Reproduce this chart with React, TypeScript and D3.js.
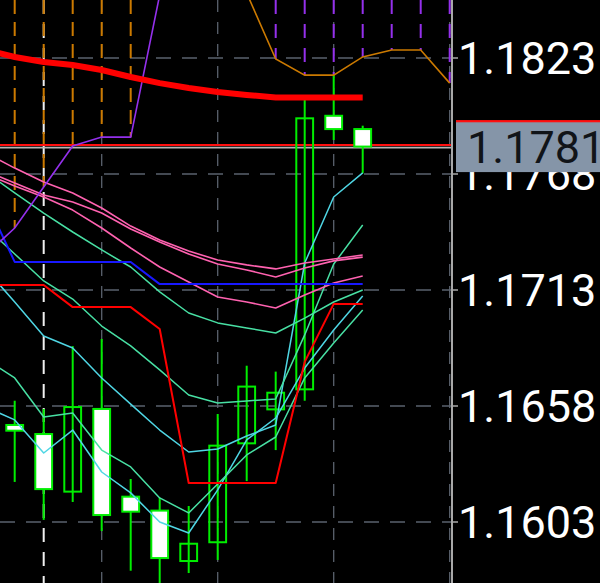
import React, { useEffect, useRef } from 'react';
import * as d3 from 'd3';

// price axis
const priceTicks = [1.1823, 1.1768, 1.1713, 1.1658, 1.1603];
const lastPrice = 1.1781;

// candles, bars 0..12
const candleOpen = [1.16490, 1.16447, 1.16174, 1.16566, 1.16150, 1.16084, 1.15845, 1.15934, 1.16403, 1.16564, 1.16659, 1.17956, 1.17893];
const candleHigh = [1.16605, 1.16566, 1.16864, 1.16898, 1.16234, 1.16144, 1.16106, 1.16542, 1.16771, 1.16743, 1.18040, 1.18149, 1.17909];
const candleLow = [1.16220, 1.16040, 1.16125, 1.15987, 1.15799, 1.15735, 1.15788, 1.15850, 1.16224, 1.16371, 1.16605, 1.17841, 1.17683];
const candleClose = [1.16463, 1.16186, 1.16575, 1.16063, 1.16079, 1.15859, 1.15927, 1.16392, 1.16672, 1.16643, 1.17944, 1.17893, 1.17810];

// indicator lines, bars -1..12
const maSlow = [1.18268, 1.18235, 1.18211, 1.18197, 1.18173, 1.18140, 1.18111, 1.18088, 1.18069, 1.18055, 1.18043, 1.18043, 1.18043, 1.18043];
const kijun = [1.17557, 1.17263, 1.17263, 1.17263, 1.17263, 1.17263, 1.17158, 1.17158, 1.17158, 1.17158, 1.17158, 1.17158, 1.17158, 1.17158];
const tenkan = [1.17154, 1.17154, 1.17154, 1.17049, 1.17049, 1.17049, 1.16945, 1.16215, 1.16215, 1.16215, 1.16215, 1.16789, 1.17064, 1.17064];
const pink1 = [1.17780, 1.17708, 1.17642, 1.17590, 1.17519, 1.17433, 1.17367, 1.17315, 1.17272, 1.17249, 1.17230, 1.17258, 1.17277, 1.17296];
const pink2 = [1.17694, 1.17637, 1.17580, 1.17547, 1.17495, 1.17419, 1.17358, 1.17301, 1.17253, 1.17225, 1.17192, 1.17234, 1.17268, 1.17286];
const pink3 = [1.17680, 1.17623, 1.17571, 1.17509, 1.17424, 1.17329, 1.17239, 1.17168, 1.17097, 1.17073, 1.17045, 1.17106, 1.17163, 1.17196];
const aqua1 = [1.17689, 1.17590, 1.17495, 1.17405, 1.17320, 1.17239, 1.17121, 1.17021, 1.16974, 1.16950, 1.16926, 1.16997, 1.17073, 1.17130];
const aqua2 = [1.17429, 1.17301, 1.17173, 1.17087, 1.16959, 1.16865, 1.16751, 1.16632, 1.16594, 1.16604, 1.16613, 1.16917, 1.17253, 1.17438];
const aqua3 = [1.16803, 1.16713, 1.16528, 1.16547, 1.16371, 1.16291, 1.16144, 1.16073, 1.16210, 1.16348, 1.16433, 1.16713, 1.16879, 1.17035];
const cyan1 = [1.17230, 1.17073, 1.16912, 1.16855, 1.16713, 1.16589, 1.16466, 1.16362, 1.16376, 1.16438, 1.16490, 1.17258, 1.17571, 1.17685];
const cyan2 = [1.16575, 1.16514, 1.16357, 1.16466, 1.16267, 1.16168, 1.16030, 1.15978, 1.16182, 1.16419, 1.16523, 1.16760, 1.16940, 1.17102];

// cloud spans, bars -1..15
const spanA = [1.1872, 1.1870, 1.1868, 1.1866, 1.1864, 1.1862, 1.1860, 1.1858, 1.1856, 1.18538, 1.18225, 1.18149, 1.18149, 1.18235, 1.18268, 1.18268, 1.18111];
const spanB = [1.17296, 1.17424, 1.17618, 1.17813, 1.17855, 1.17855, 1.18529, 1.1861, 1.1862, 1.1863, 1.1864, 1.1865, 1.1866, 1.1867, 1.1868, 1.1869, 1.1870];

const gridBars = [3, 7, 11, 15];
const separatorBar = 1;

const App: React.FC = () => {
  const svgRef = useRef<SVGSVGElement>(null);

  useEffect(() => {
    if (!svgRef.current) return;
    const svg = d3.select(svgRef.current);
    svg.selectAll('*').remove();

    const width = 600;
    const height = 583;
    const axisX = 452;

    const x = d3.scaleLinear().domain([0, 15]).range([14.7, 449.7]);
    const y = d3.scaleLinear().domain([1.1603, 1.1823]).range([522, 58]);

    svg.append('rect').attr('width', width).attr('height', height).attr('fill', '#000');

    svg.append('defs').append('clipPath').attr('id', 'plot')
      .append('rect').attr('x', 0).attr('y', 0).attr('width', axisX).attr('height', height);

    const plot = svg.append('g').attr('clip-path', 'url(#plot)');

    // grid
    plot.selectAll('.vgrid').data(gridBars).enter().append('line')
      .attr('x1', d => x(d)).attr('x2', d => x(d))
      .attr('y1', 0).attr('y2', height)
      .attr('stroke', '#5a626d').attr('stroke-width', 1.3).attr('stroke-dasharray', '12,10');
    plot.selectAll('.hgrid').data(priceTicks).enter().append('line')
      .attr('x1', 0).attr('x2', axisX)
      .attr('y1', d => y(d)).attr('y2', d => y(d))
      .attr('stroke', '#5a626d').attr('stroke-width', 1.3).attr('stroke-dasharray', '15,11');

    // period separator
    plot.append('line')
      .attr('x1', x(separatorBar)).attr('x2', x(separatorBar))
      .attr('y1', 0).attr('y2', height)
      .attr('stroke', '#f0f0f0').attr('stroke-width', 2).attr('stroke-dasharray', '14,10');

    // cloud hatch
    const hatch = spanA.map((a, j) => {
      const b = spanB[j];
      return { i: j - 1, top: Math.max(0, y(Math.max(a, b))), bottom: y(Math.min(a, b)), up: a > b };
    }).filter(d => d.bottom > 0);
    plot.selectAll('.hatch').data(hatch).enter().append('line')
      .attr('x1', d => x(d.i)).attr('x2', d => x(d.i))
      .attr('y1', d => d.top).attr('y2', d => d.bottom)
      .attr('stroke', d => d.up ? '#cc7a00' : '#9430ec')
      .attr('stroke-width', 2)
      .attr('stroke-dasharray', d => d.up ? '14,8' : '14,10');

    // bid / ask lines
    plot.append('line').attr('x1', 0).attr('x2', axisX)
      .attr('y1', y(lastPrice) - 1.6).attr('y2', y(lastPrice) - 1.6)
      .attr('stroke', '#ff1010').attr('stroke-width', 2.2);
    plot.append('line').attr('x1', 0).attr('x2', axisX)
      .attr('y1', y(lastPrice) + 1).attr('y2', y(lastPrice) + 1)
      .attr('stroke', '#b4b4b4').attr('stroke-width', 1.6);

    // candles
    const candles = candleOpen.map((o, i) => ({
      i, o, h: candleHigh[i], l: candleLow[i], c: candleClose[i],
    }));
    const green = '#00ee00';
    plot.selectAll('.wick').data(candles).enter().append('line')
      .attr('x1', d => x(d.i)).attr('x2', d => x(d.i))
      .attr('y1', d => y(d.h)).attr('y2', d => y(d.l))
      .attr('stroke', green).attr('stroke-width', 2);
    plot.selectAll('.body').data(candles).enter().append('rect')
      .attr('x', d => x(d.i) - 8.4)
      .attr('y', d => y(Math.max(d.o, d.c)))
      .attr('width', 16.8)
      .attr('height', d => Math.max(1, Math.abs(y(d.o) - y(d.c))))
      .attr('fill', d => d.c < d.o ? '#ffffff' : 'none')
      .attr('stroke', green).attr('stroke-width', 2);

    // indicator lines
    const line = d3.line<number>().x((_, j) => x(j - 1)).y(d => y(d));
    const series: [number[], string, number][] = [
      [cyan2, '#4fd6e4', 1.5],
      [aqua3, '#48e0a4', 1.5],
      [cyan1, '#4fd6e4', 1.5],
      [aqua2, '#48e0a4', 1.5],
      [aqua1, '#48e0a4', 1.5],
      [pink3, '#ff62b0', 1.6],
      [pink2, '#ff62b0', 1.6],
      [pink1, '#ff62b0', 1.6],
      [kijun, '#1818ff', 2],
      [tenkan, '#ff0000', 2],
    ];
    series.forEach(([values, color, w]) => {
      plot.append('path').datum(values)
        .attr('d', line)
        .attr('fill', 'none').attr('stroke', color).attr('stroke-width', w)
        .attr('stroke-linejoin', 'round');
    });

    plot.append('path').datum(spanA).attr('d', line)
      .attr('fill', 'none').attr('stroke', '#cc7a00').attr('stroke-width', 1.6);
    plot.append('path').datum(spanB).attr('d', line)
      .attr('fill', 'none').attr('stroke', '#9430ec').attr('stroke-width', 1.6);

    plot.append('path').datum(maSlow).attr('d', line)
      .attr('fill', 'none').attr('stroke', '#ff0000').attr('stroke-width', 6);

    // price axis
    svg.append('line').attr('x1', axisX).attr('x2', axisX).attr('y1', 0).attr('y2', height)
      .attr('stroke', '#a8a8a8').attr('stroke-width', 2);
    svg.selectAll('.tick').data(priceTicks).enter().append('line')
      .attr('x1', axisX).attr('x2', axisX + 6)
      .attr('y1', d => y(d)).attr('y2', d => y(d))
      .attr('stroke', '#a8a8a8').attr('stroke-width', 1.5);
    svg.selectAll('.label').data(priceTicks).enter().append('text')
      .attr('x', axisX + 6)
      .attr('y', d => y(d) + 16)
      .attr('fill', '#ffffff')
      .attr('font-family', 'Roboto, sans-serif')
      .attr('font-size', '45px')
      .text(d => d.toFixed(4));

    // last price label
    const py = y(lastPrice);
    svg.append('rect').attr('x', 456).attr('y', py - 25.5).attr('width', 144).attr('height', 51)
      .attr('fill', '#8595a8');
    svg.append('rect').attr('x', 456).attr('y', py - 26.5).attr('width', 144).attr('height', 2.2)
      .attr('fill', '#ff1010');
    svg.append('text')
      .attr('x', 467).attr('y', py + 16.5)
      .attr('fill', '#111418')
      .attr('font-family', 'Roboto, sans-serif')
      .attr('font-size', '45px')
      .text(lastPrice.toFixed(4));
  }, []);

  return (
    <svg ref={svgRef} width={600} height={583}
      style={{ position: 'fixed', left: 0, top: 0, display: 'block' }} />
  );
};

export default App;
